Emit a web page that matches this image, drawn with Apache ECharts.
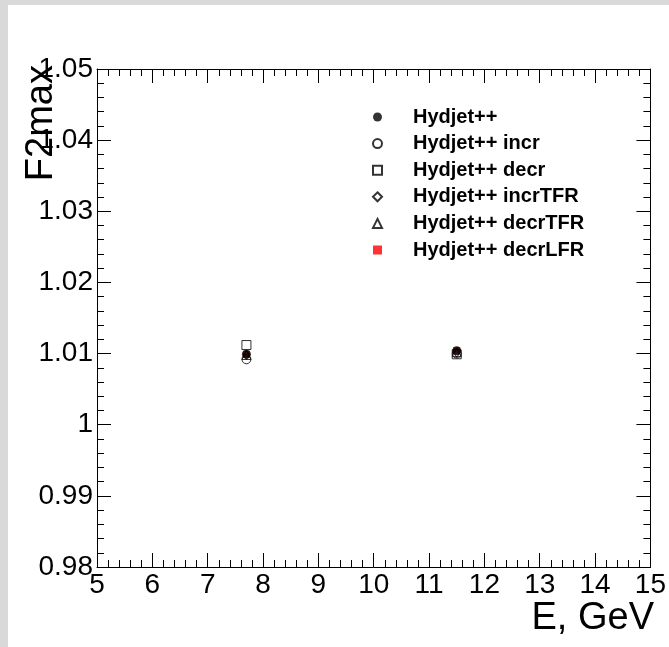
<!DOCTYPE html>
<html>
<head>
<meta charset="utf-8">
<script src="https://cdn.jsdelivr.net/npm/echarts@6/dist/echarts.min.js"></script>
<style>
html,body{margin:0;padding:0;background:#d9d9d9;}
#c{position:absolute;left:8px;top:5px;width:661px;height:642px;background:#fff;}
</style>
</head>
<body>
<div id="c"></div>
<script>
var energies = [7.7, 11.5];
var seriesNames = ['Hydjet++', 'Hydjet++ incr', 'Hydjet++ decr', 'Hydjet++ incrTFR', 'Hydjet++ decrTFR', 'Hydjet++ decrLFR'];
var hydjet      = [1.0099, 1.0104];
var hydjetIncr  = [1.0092, 1.0100];
var hydjetDecr  = [1.0112, 1.0099];
var incrTFR     = [1.0098, 1.0101];
var decrTFR     = [1.0098, 1.0102];
var decrLFR     = [1.0099, 1.0104];
var xTicks = [5,6,7,8,9,10,11,12,13,14,15];
var yTicks = [0.98,0.99,1,1.01,1.02,1.03,1.04,1.05];

function pts(vals){ return energies.map(function(e,i){ return [e, vals[i]]; }); }

var chart = echarts.init(document.getElementById('c'), null, {renderer:'canvas'});
var FONT = 'Liberation Sans, Arial, sans-serif';
var HOLLOW = 'rgba(255,255,255,0)';
function axisCommon(extra){
  var a = {
    axisLine:{show:true, onZero:false, lineStyle:{color:'#000', width:1}},
    axisTick:{show:true, inside:true, length:14, lineStyle:{color:'#000', width:1}},
    minorTick:{show:true, splitNumber:5, length:7, lineStyle:{color:'#000', width:1}},
    splitLine:{show:false},
    minorSplitLine:{show:false}
  };
  for (var k in extra) a[k] = extra[k];
  return a;
}
var option = {
  animation:false,
  backgroundColor:'#fff',
  grid:{left:89, right:15, top:64, bottom:80},
  xAxis:[
    axisCommon({type:'value', min:xTicks[0], max:xTicks[xTicks.length-1], interval:1, position:'bottom',
      axisLabel:{show:true, color:'#000', fontSize:28, fontFamily:FONT, margin:4}}),
    axisCommon({type:'value', min:xTicks[0], max:xTicks[xTicks.length-1], interval:1, position:'top',
      axisLabel:{show:false}})
  ],
  yAxis:[
    axisCommon({type:'value', min:yTicks[0], max:yTicks[yTicks.length-1], interval:0.01, position:'left',
      axisLabel:{show:true, color:'#000', fontSize:28, fontFamily:FONT, margin:4,
        formatter:function(v){ return String(Math.round(v*100)/100); }}}),
    axisCommon({type:'value', min:yTicks[0], max:yTicks[yTicks.length-1], interval:0.01, position:'right',
      axisLabel:{show:false}})
  ],
  legend:{
    orient:'vertical', left:359, top:97, itemGap:6.6, itemWidth:9, itemHeight:9,
    textStyle:{fontSize:20, fontWeight:'bold', color:'#000', fontFamily:FONT, padding:[0,0,0,26]},
    data:seriesNames
  },
  graphic:[
    {type:'text', left:15, top:60, rotation:Math.PI/2,
      style:{text:'F2max', font:'38px Liberation Sans, Arial, sans-serif', fill:'#000'}},
    {type:'text', right:15, top:595,
      style:{text:'E, GeV', font:'38px Liberation Sans, Arial, sans-serif', fill:'#000'}}
  ],
  series:[
    {name:seriesNames[5], type:'scatter', data:pts(decrLFR), symbol:'rect', symbolSize:7, z:2,
      itemStyle:{color:'#ff0000'}},
    {name:seriesNames[0], type:'scatter', data:pts(hydjet), symbol:'circle', symbolSize:9, z:3,
      itemStyle:{color:'#000'}},
    {name:seriesNames[4], type:'scatter', data:pts(decrTFR), symbol:'triangle', symbolSize:9, z:4,
      itemStyle:{color:HOLLOW, borderColor:'#000', borderWidth:1}},
    {name:seriesNames[3], type:'scatter', data:pts(incrTFR), symbol:'diamond', symbolSize:[6,9], z:5,
      itemStyle:{color:HOLLOW, borderColor:'#000', borderWidth:1}},
    {name:seriesNames[2], type:'scatter', data:pts(hydjetDecr), symbol:'rect', symbolSize:9, z:6,
      itemStyle:{color:HOLLOW, borderColor:'#000', borderWidth:1}},
    {name:seriesNames[1], type:'scatter', data:pts(hydjetIncr), symbol:'circle', symbolSize:9, z:7,
      itemStyle:{color:HOLLOW, borderColor:'#000', borderWidth:1}}
  ]
};
chart.setOption(option);
</script>
</body>
</html>
